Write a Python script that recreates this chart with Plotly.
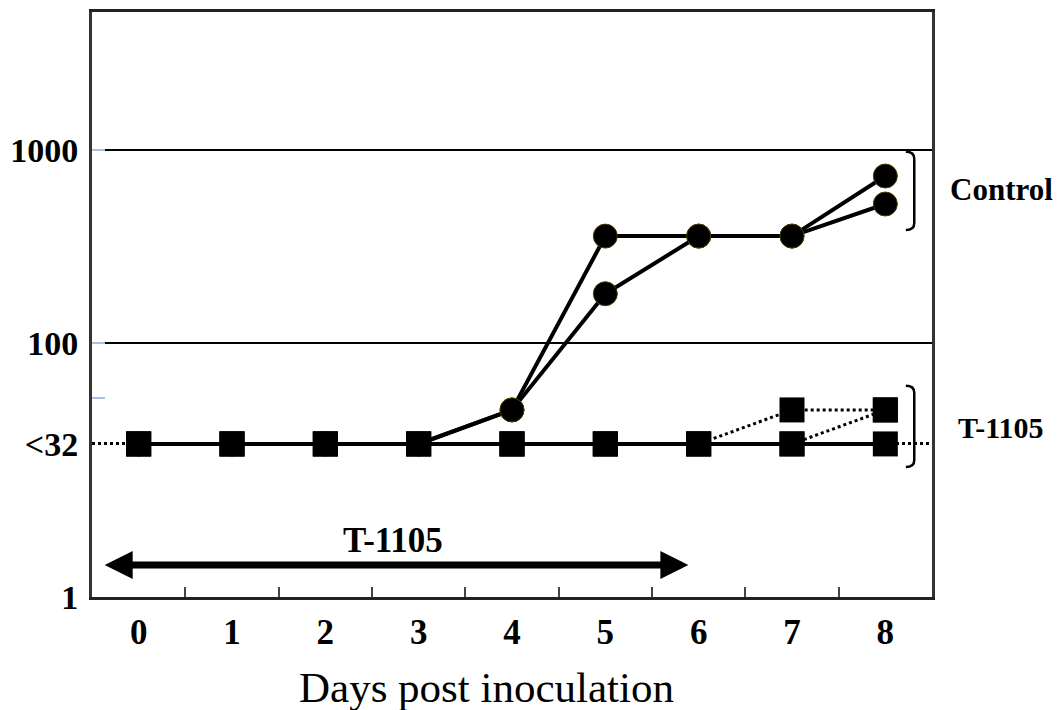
import math
import plotly.graph_objects as go

# ---------------- data ----------------
days = [0, 1, 2, 3, 4, 5, 6, 7, 8]
day_labels = ["0", "1", "2", "3", "4", "5", "6", "7", "8"]

control_a = [30, 30, 30, 30, 45, 358, 358, 358, 733]
control_b = [30, 30, 30, 30, 45, 180, 358, 358, 525]

t1105_a = [30, 30, 30, 30, 30, 30, 30, 30, 30]   # solid line
t1105_b = [30, 30, 30, 30, 30, 30, 30, 45, 45]   # dotted
t1105_c = [30, 30, 30, 30, 30, 30, 30, 30, 45]   # dotted

y_tickvals = [4.83, 30, 100, 1000]
y_ticktext = ["1", "<32", "100", "1000"]
grid_vals = [100, 1000]
limit_val = [30]
small_tick_vals = [52, 100, 1000]

treatment_start, treatment_end = -0.38, 5.89   # T-1105 dosing period (days)

# ---------------- figure ----------------
Y0, Y1 = math.log10(4.83), 3.715
FONT = "Liberation Serif"


def ypaper(v):
    return (math.log10(v) - Y0) / (Y1 - Y0)


fig = go.Figure()

line_kw = dict(color="black", width=4)
for ys in (control_a, control_b):
    fig.add_trace(go.Scatter(x=days, y=ys, mode="lines+markers",
                             line=line_kw,
                             marker=dict(symbol="circle", size=24, color="black",
                                         line=dict(color="#4a3c00", width=1)),
                             showlegend=False, hoverinfo="skip"))

for ys in (t1105_b, t1105_c):
    fig.add_trace(go.Scatter(x=days, y=ys, mode="lines",
                             line=dict(color="black", width=3, dash="dot"),
                             showlegend=False, hoverinfo="skip"))

fig.add_trace(go.Scatter(x=days, y=t1105_a, mode="lines",
                         line=line_kw, showlegend=False, hoverinfo="skip"))

for ys in (t1105_b, t1105_c, t1105_a):
    fig.add_trace(go.Scatter(x=days, y=ys, mode="markers",
                             marker=dict(symbol="square", size=25, color="black"),
                             showlegend=False, hoverinfo="skip"))

# dummy traces to make the overlay axes exist
for ax in ("y2", "y3", "y4"):
    fig.add_trace(go.Scatter(x=[None], y=[None], yaxis=ax, showlegend=False,
                             hoverinfo="skip"))

base_y = dict(type="log", range=[Y0, Y1], fixedrange=True, automargin=False)

fig.update_layout(
    width=1061, height=710,
    margin=dict(l=92, r=129, t=12, b=113),
    paper_bgcolor="white", plot_bgcolor="white",
    showlegend=False,
    font=dict(family=FONT, color="black"),
    xaxis=dict(range=[-0.5, 8.5], tickmode="array", tickvals=days,
               ticktext=day_labels, ticks="", showgrid=False, zeroline=False,
               automargin=False,
               showline=True, mirror=True, linecolor="#222", linewidth=3,
               tickfont=dict(family=FONT, size=35, weight="bold"),
               ticklabelstandoff=2,
               minor=dict(tickmode="array",
                          tickvals=[d + 0.5 for d in days[:-1]],
                          ticks="inside", ticklen=10, tickwidth=2,
                          tickcolor="#444", showgrid=False)),
    yaxis=dict(**base_y, tickmode="array", tickvals=y_tickvals,
               ticktext=y_ticktext, ticks="", showgrid=False, zeroline=False,
               showline=True, mirror=True, linecolor="#333", linewidth=3,
               tickfont=dict(family=FONT, size=34, weight="bold"),
               ticklabelstandoff=4),
    yaxis2=dict(**base_y, overlaying="y", tickmode="array", tickvals=grid_vals,
                showticklabels=False, ticks="", showgrid=True,
                gridcolor="black", gridwidth=1.5, showline=False,
                zeroline=False),
    yaxis3=dict(**base_y, overlaying="y", tickmode="array", tickvals=limit_val,
                showticklabels=False, ticks="", showgrid=True,
                gridcolor="black", gridwidth=3, griddash="dot",
                showline=False, zeroline=False),
    yaxis4=dict(**base_y, overlaying="y", tickmode="array",
                tickvals=small_tick_vals, showticklabels=False,
                ticks="inside", ticklen=13, tickwidth=2, tickcolor="#a8c0e6",
                showgrid=False, showline=False, zeroline=False),
)

# x-axis title (slightly left of centre, as in the original)
fig.add_annotation(text="Days post inoculation", x=0.47, y=-0.155,
                   xref="paper", yref="paper", showarrow=False,
                   xanchor="center", yanchor="middle",
                   font=dict(family=FONT, size=43))

# brackets
def bracket(top, bottom):
    pt, pb = ypaper(top), ypaper(bottom)
    xr, xl = 8.31, 8.22
    c = 0.012
    path = (f"M {xl},{pt} Q {xr},{pt} {xr},{pt - c} "
            f"L {xr},{pb + c} Q {xr},{pb} {xl},{pb}")
    fig.add_shape(type="path", path=path, xref="x", yref="paper",
                  line=dict(color="black", width=2.5))

bracket(980, 385)
bracket(60, 22.8)

fig.add_annotation(text="<b>Control</b>", x=1.083, y=ypaper(621), xref="paper",
                   yref="paper", showarrow=False, xanchor="center",
                   yanchor="middle", font=dict(family=FONT, size=31))
fig.add_annotation(text="<b>T-1105</b>", x=1.082, y=ypaper(36.3), xref="paper",
                   yref="paper", showarrow=False, xanchor="center",
                   yanchor="middle", font=dict(family=FONT, size=30))

# treatment arrow
arrow_y = ypaper(7.08)
fig.add_annotation(x=treatment_end, y=arrow_y, xref="x", yref="paper",
                   ax=treatment_start, ay=0, axref="x", ayref="pixel",
                   text="", showarrow=True, arrowside="end+start",
                   arrowhead=2, startarrowhead=2, arrowsize=0.8,
                   startarrowsize=0.8, arrowwidth=7, arrowcolor="black",
                   standoff=0, startstandoff=0)
fig.add_annotation(text="<b>T-1105</b>", x=2.73, y=ypaper(9.5), xref="x",
                   yref="paper", showarrow=False, xanchor="center",
                   yanchor="middle", font=dict(family=FONT, size=35))

fig.write_html("out.html")
